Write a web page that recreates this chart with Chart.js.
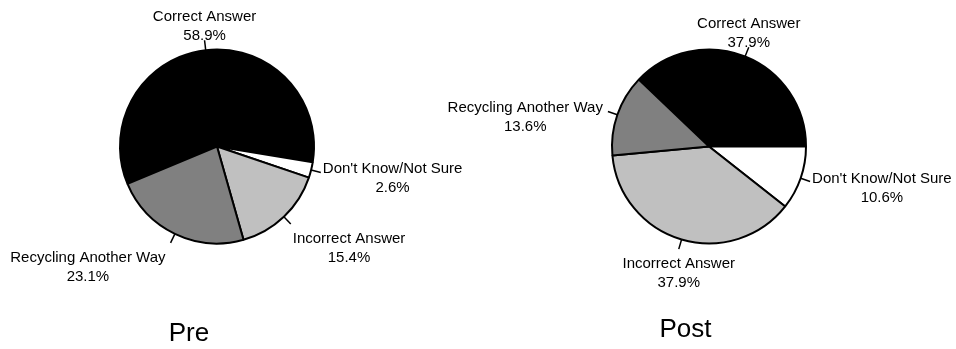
<!DOCTYPE html>
<html>
<head>
<meta charset="utf-8">
<script src="https://cdn.jsdelivr.net/npm/chart.js@4.4.1/dist/chart.umd.min.js"></script>
<style>
  html, body { margin: 0; padding: 0; background: #fff; }
  #wrap { position: relative; width: 956px; height: 349px; }
  canvas { position: absolute; top: 0; left: 0; }
</style>
</head>
<body>
<div id="wrap">
  <canvas id="preChart" width="956" height="349"></canvas>
  <canvas id="postChart" width="956" height="349"></canvas>
</div>
<script>
'use strict';

let categories = ['Correct Answer', "Don't Know/Not Sure", 'Incorrect Answer', 'Recycling Another Way'];
let preValues = [58.9, 2.6, 15.4, 23.1];
let postValues = [37.9, 10.6, 37.9, 13.6];
let panelTitles = ['Pre', 'Post'];

let sliceColors = ['#000000', '#ffffff', '#c0c0c0', '#808080'];
let labelFont = '15px "Liberation Sans", Arial, sans-serif';
let titleFont = '26px "Liberation Sans", Arial, sans-serif';
let lineGap = 19;

// labels outside each slice, with a short leader line, plus the panel title
let pieLabels = {
    id: 'pieLabels',
    afterDatasetsDraw(chart, args, opts) {
        let ctx = chart.ctx;
        let meta = chart.getDatasetMeta(0);
        let values = chart.data.datasets[0].data;
        ctx.save();
        ctx.font = labelFont;
        ctx.fillStyle = '#000';
        ctx.strokeStyle = '#000';
        ctx.lineWidth = 1.5;
        ctx.textAlign = 'center';
        ctx.textBaseline = 'alphabetic';

        meta.data.forEach((arc, i) => {
            let p = arc.getProps(['x', 'y', 'startAngle', 'endAngle', 'outerRadius'], true);
            let mid = (p.startAngle + p.endAngle) / 2;
            let dx = Math.cos(mid);
            let dy = Math.sin(mid);
            let ax = p.x + dx * (p.outerRadius + 10);
            let ay = p.y + dy * (p.outerRadius + 10);

            ctx.beginPath();
            ctx.moveTo(p.x + dx * p.outerRadius, p.y + dy * p.outerRadius);
            ctx.lineTo(ax, ay);
            ctx.stroke();

            let lines = [chart.data.labels[i], values[i].toFixed(1) + '%'];
            let w = Math.max(...lines.map(t => ctx.measureText(t).width));

            let tx = ax;
            if (dx > 0.4) tx = ax + 2 + w / 2;
            else if (dx < -0.4) tx = ax - 5 - w / 2;

            let base = ay + 1;
            if (dy < -0.5) base = ay - lineGap;
            else if (dy > 0.5) base = ay + 19;

            lines.forEach((t, k) => ctx.fillText(t, tx, base + k * lineGap));
        });

        ctx.font = titleFont;
        ctx.fillText(opts.text, opts.x, opts.y);
        ctx.restore();
    }
};

function makePie(canvasId, values, title, rotation, padding, titleX, titleY) {
    let ctx = document.getElementById(canvasId).getContext('2d');
    return new Chart(ctx, {
        type: 'pie',
        data: {
            labels: categories,
            datasets: [{
                data: values,
                backgroundColor: sliceColors,
                borderColor: '#000',
                borderWidth: 2
            }]
        },
        options: {
            responsive: false,
            animation: false,
            rotation: rotation,
            radius: 97,
            layout: { padding: padding },
            plugins: {
                legend: { display: false },
                tooltip: { enabled: false },
                pieLabels: { text: title, x: titleX, y: titleY }
            }
        },
        plugins: [pieLabels]
    });
}

makePie('preChart', preValues, panelTitles[0], -112.7,
    { left: 0, top: 0, right: 522, bottom: 56 }, 189, 341);
makePie('postChart', postValues, panelTitles[1], -46.4,
    { left: 462, top: 0, right: 0, bottom: 56 }, 685.5, 337);
</script>
</body>
</html>
